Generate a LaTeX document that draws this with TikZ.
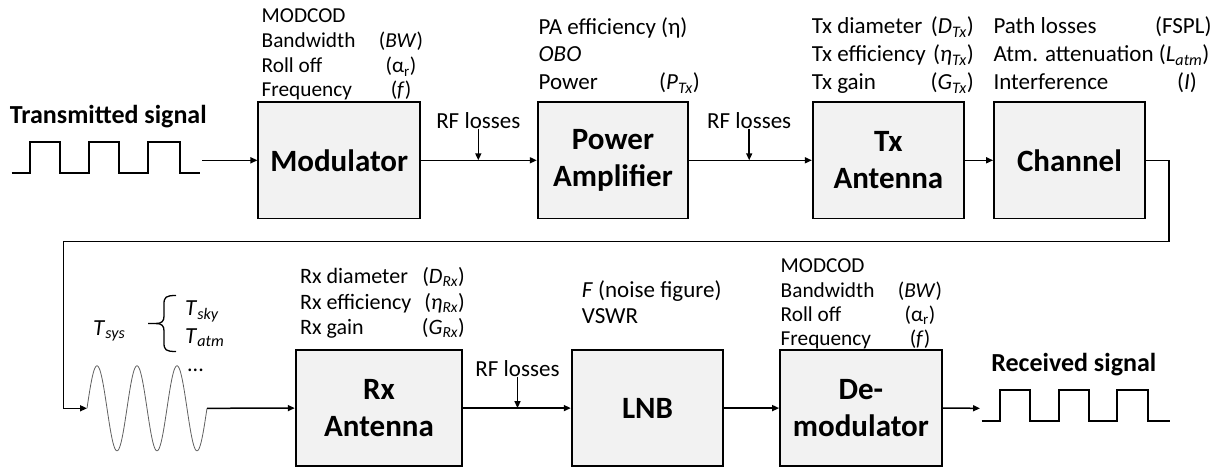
\documentclass[tikz,border=0pt]{standalone}
\usepackage{fontspec}
\setmainfont{Carlito}
\usetikzlibrary{arrows.meta}
\definecolor{boxgray}{HTML}{F2F2F2}
\newcommand{\sub}[1]{\textsubscript{#1}}
\begin{document}
\begin{tikzpicture}[x=1pt,y=-1pt,
  blk/.style={draw=black, line width=1.8pt, fill=boxgray, minimum height=116.5pt,
    font=\bfseries\fontsize{31}{36.6}\selectfont, align=center, inner sep=0pt},
  ann/.style={font=\fontsize{23}{27}\selectfont, inner sep=0pt},
  annr/.style={font=\fontsize{22}{26}\selectfont, inner sep=0pt},
  anns/.style={font=\fontsize{21.3}{25}\selectfont, inner sep=0pt},
  annt/.style={font=\fontsize{23}{27}\selectfont, inner sep=0pt},
  ttl/.style={font=\bfseries\fontsize{26}{30}\selectfont, inner sep=0pt},
  conn/.style={line width=1.5pt, -{Triangle[length=7pt,width=6pt]}},
  sig/.style={line width=1.8pt},
  wave/.style={line width=0.8pt, gray!75!black}]
\useasboundingbox (0,0) rectangle (1223,468);

% ---- top row boxes
\node[blk, minimum width=161.7pt] (mod) at (339.2,160.3) {Modulator};
\node[blk, minimum width=150.6pt] (pa)  at (613,160.3) {Power\\Amplifier};
\node[blk, minimum width=151.3pt] (txa) at (888.4,160.3) {Tx\\Antenna};
\node[blk, minimum width=151pt]   (ch)  at (1069.5,160.3) {Channel};
% ---- bottom row boxes
\node[blk, minimum width=166.6pt] (rxa) at (379,408.1) {Rx\\Antenna};
\node[blk, minimum width=151.6pt] (lnb) at (647.5,408.1) {LNB};
\node[blk, minimum width=161.7pt] (dem) at (860.9,408.1) {De-\\modulator};

% ---- transmitted signal
\node[ttl, anchor=base] (txt) at (108.3,124) {Transmitted signal};
\draw[sig] (11.7,173.3) -| (30,141.7) -| (60,173.3) -| (89.3,141.7) -| (119,173.3) -| (148.3,141.7) -| (180,173.3) -- (200,173.3);
\coordinate (txout) at (202,160.3);
\draw[conn] (txout) -- (mod.west);

% ---- top connectors
\draw[conn] (mod.east) -- (pa.west);
\draw[conn] (pa.east) -- (txa.west);
\draw[conn] (txa.east) -- (ch.west);
\node[ann, anchor=base] (rfl1) at (478.3,128.3) {RF losses};
\node[ann, anchor=base] (rfl2) at (749.2,128.3) {RF losses};
\draw[conn] (rfl1.south) -- (rfl1.south |- mod.east);
\draw[conn] (rfl2.south) -- (rfl2.south |- pa.east);

% ---- feedback path and wave
\coordinate (c1) at (1169,160.3);
\coordinate (c2) at (1169,241.7);
\coordinate (c3) at (63.3,241.7);
\coordinate (c4) at (63.3,408.3);
\coordinate (wstart) at (87,408.3);
\coordinate (wend) at (207,408.3);
\draw[line width=1.5pt] (ch.east) -- (c1) -- (c2) -- (c3) -- (c4);
\draw[conn] (c4) -- (wstart);
\draw[wave] plot[domain=0:120, samples=240, smooth] ({\x+87}, {408.3-42.5*sin(9*\x)});
\draw[conn] (wend) -- (rxa.west);
\node[annr, anchor=base west] (dots) at (187,371) {...};

% ---- Tsys brace
\node[annt, anchor=base west] (tsys) at (93,335) {\textit{T}\sub{\textit{sys}}};
\node[annt, anchor=base west] (tsky) at (185,315.5) {\textit{T}\sub{\textit{sky}}};
\node[annt, anchor=base west] (tatm) at (185,343) {\textit{T}\sub{\textit{atm}}};
\draw[line width=1.3pt] (176,295.5) .. controls (166,295.5) and (164,297) .. (164,304)
  -- (164,316) .. controls (164,321) and (162,323.5) .. (156,323.5) -- (148,323.5);
\draw[line width=1.3pt] (176,351.5) .. controls (166,351.5) and (164,350) .. (164,343)
  -- (164,331) .. controls (164,326) and (162,323.5) .. (156,323.5);

% ---- bottom connectors
\draw[conn] (rxa.east) -- (lnb.west);
\draw[conn] (lnb.east) -- (dem.west);
\node[ann, anchor=base] (rfl3) at (517.5,376.7) {RF losses};
\draw[conn] (rfl3.south) -- (rfl3.south |- rxa.east);
\coordinate (rxin) at (980,408.3);
\draw[conn] (dem.east) -- (rxin);

% ---- received signal
\node[ttl, anchor=base] (rxt) at (1073.8,371.7) {Received signal};
\draw[sig] (981.7,421) -| (1000,390) -| (1030,421) -| (1059.3,390) -| (1088.7,421) -| (1117.3,390) -| (1148.3,421) -- (1170,421);

% ---- Modulator annotations
\node[anns, anchor=base west] (m1) at (261.5,22.7) {MODCOD};
\node[anns, anchor=base west] (m2) at (261.5,48) {Bandwidth};
\node[anns, anchor=base west] (m3) at (261.5,73) {Roll off};
\node[anns, anchor=base west] (m4) at (261.5,97) {Frequency};
\node[anns, anchor=base] (m2r) at (401,48) {(\textit{BW})};
\node[anns, anchor=base] (m3r) at (401,73) {(α\sub{r})};
\node[anns, anchor=base] (m4r) at (401,97) {(\textit{f})};

% ---- PA annotations
\node[ann, anchor=base west] (p1) at (538.5,34.5) {PA efficiency (η)};
\node[ann, anchor=base west] (p2) at (538.5,61.5) {\textit{OBO}};
\node[ann, anchor=base west] (p3) at (538.5,89.8) {Power};
\node[ann, anchor=base east] (p3r) at (700,89.8) {(\textit{P}\sub{\textit{Tx}})};

% ---- Tx antenna annotations
\node[ann, anchor=base west] (t1) at (811.7,33.5) {Tx diameter};
\node[ann, anchor=base west] (t2) at (811.7,61.7) {Tx efficiency};
\node[ann, anchor=base west] (t3) at (811.7,89.5) {Tx gain};
\node[ann, anchor=base east] (t1r) at (974,33.5) {(\textit{D}\sub{\textit{Tx}})};
\node[ann, anchor=base east] (t2r) at (974,61.7) {(\textit{η}\sub{\textit{Tx}})};
\node[ann, anchor=base east] (t3r) at (974,89.5) {(\textit{G}\sub{\textit{Tx}})};

% ---- Channel annotations
\node[ann, anchor=base west] (c1t) at (993.3,33.5) {Path losses};
\node[ann, anchor=base east] (c1r) at (1211.7,33.5) {(FSPL)};
\node[ann, anchor=base west] (c2t) at (993.3,61.7) {Atm. attenuation (\textit{L}\sub{\textit{atm}})};
\node[ann, anchor=base west] (c3t) at (993.3,89.5) {Interference};
\node[ann, anchor=base east] (c3r) at (1197,89.5) {(\textit{I})};

% ---- Rx antenna annotations
\node[annr, anchor=base west] (r1) at (300,283.5) {Rx diameter};
\node[annr, anchor=base west] (r2) at (300,309) {Rx efficiency};
\node[annr, anchor=base west] (r3) at (300,334.5) {Rx gain};
\node[annr, anchor=base east] (r1r) at (465,283.5) {(\textit{D}\sub{\textit{Rx}})};
\node[annr, anchor=base east] (r2r) at (465,309) {(\textit{η}\sub{\textit{Rx}})};
\node[annr, anchor=base east] (r3r) at (465,334.5) {(\textit{G}\sub{\textit{Rx}})};

% ---- LNB annotations
\node[ann, anchor=base west] (l1) at (581.7,297.3) {\textit{F} (noise figure)};
\node[ann, anchor=base west] (l2) at (581.7,323.3) {VSWR};

% ---- Demodulator annotations
\node[anns, anchor=base west] (d1) at (780.5,272.5) {MODCOD};
\node[anns, anchor=base west] (d2) at (780.5,297.5) {Bandwidth};
\node[anns, anchor=base west] (d3) at (780.5,321.7) {Roll off};
\node[anns, anchor=base west] (d4) at (780.5,345.5) {Frequency};
\node[anns, anchor=base] (d2r) at (920,297.5) {(\textit{BW})};
\node[anns, anchor=base] (d3r) at (920,321.7) {(α\sub{r})};
\node[anns, anchor=base] (d4r) at (920,345.5) {(\textit{f})};
\end{tikzpicture}
\end{document}
